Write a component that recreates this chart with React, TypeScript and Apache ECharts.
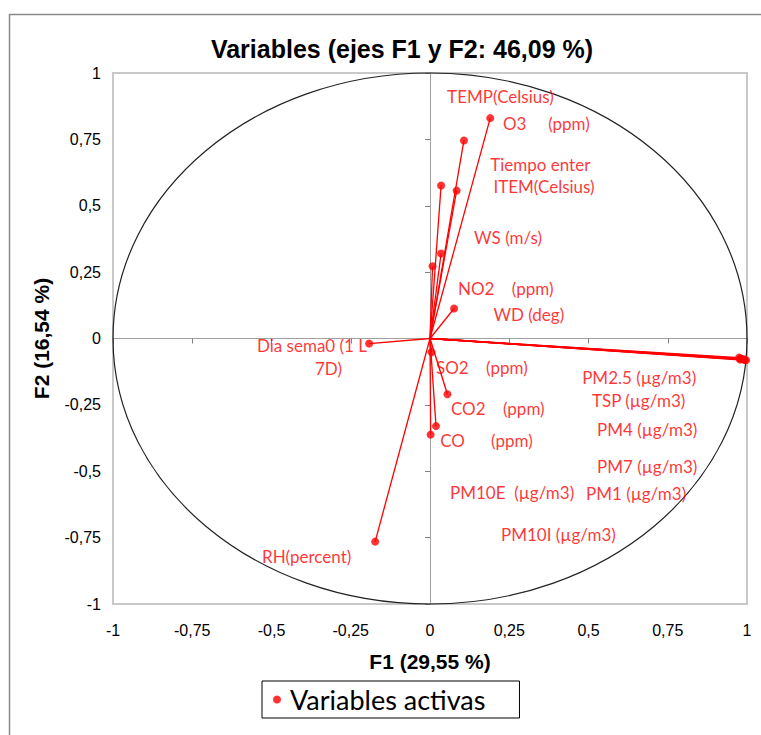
import React, { useEffect, useRef } from "react";
import * as echarts from "echarts";

// Variable coordinates on the factor axes (F1, F2)
const varF1 = [0.19, 0.107, 0.035, 0.084, 0.035, 0.008, 0.076, -0.192, 0.005, 0.055, 0.019, 0.002, -0.173, 0.975, 0.98, 0.985, 0.99, 0.993, 0.997, 0.978];
const varF2 = [0.83, 0.746, 0.576, 0.557, 0.32, 0.272, 0.113, -0.019, -0.052, -0.21, -0.33, -0.362, -0.765, -0.072, -0.075, -0.077, -0.079, -0.08, -0.082, -0.079];

// Labels as placed in the original chart (anchor in F1/F2 units, left edge)
const labelTexts = [
  "TEMP(Celsius)", "O3     (ppm)", "Tiempo enter", "ITEM(Celsius)", "WS (m/s)", "NO2    (ppm)", "WD (deg)",
  "Dia sema0 (1 L", "7D)", "SO2    (ppm)", "CO2    (ppm)", "CO      (ppm)",
  "PM2.5 (µg/m3)", "TSP (µg/m3)", "PM4 (µg/m3)", "PM7 (µg/m3)", "PM10E  (µg/m3)", "PM1 (µg/m3)", "PM10I (µg/m3)", "RH(percent)",
];
const labelF1 = [0.054, 0.23, 0.19, 0.2, 0.139, 0.088, 0.2, -0.546, -0.363, 0.019, 0.066, 0.032, 0.48, 0.511, 0.527, 0.527, 0.063, 0.492, 0.224, -0.53];
const labelF2 = [0.911, 0.81, 0.655, 0.572, 0.38, 0.188, 0.09, -0.026, -0.113, -0.109, -0.264, -0.384, -0.147, -0.234, -0.343, -0.482, -0.58, -0.584, -0.738, -0.821];

const titleText = "Variables (ejes F1 y F2: 46,09 %)";
const xName = "F1 (29,55 %)";
const yName = "F2 (16,54 %)";
const seriesName = "Variables activas";

const RED = "#ff0000";
const fmt = (v: number) => String(v).replace(".", ",");

export default function App() {
  const ref = useRef<HTMLDivElement>(null);
  useEffect(() => {
    document.body.style.margin = "0";
    const chart = echarts.init(ref.current!, null, { renderer: "svg" });
    const points = varF1.map((x, i) => [x, varF2[i]]);
    const labels = labelTexts.map((t, i) => ({ name: t, value: [labelF1[i], labelF2[i]] }));
    const axisCommon = { type: "value" as const, min: -1, max: 1, interval: 0.25 };
    chart.setOption({
      animation: false,
      textStyle: { fontFamily: "Liberation Sans" },
      title: {
        text: titleText,
        left: 397,
        textAlign: "center",
        top: 31,
        textStyle: { fontSize: 25, fontWeight: "bold", color: "#000", fontFamily: "Liberation Sans" },
      },
      graphic: [
        {
          type: "rect",
          shape: { x: 9.5, y: 14.5, width: 800, height: 800 },
          style: { fill: "none", stroke: "#8a8a8a", lineWidth: 1.5 },
          silent: true,
          z: -10,
        },
      ],
      legend: {
        data: [seriesName],
        left: 262,
        bottom: 17,
        icon: "circle",
        itemWidth: 8,
        itemHeight: 8,
        borderColor: "#000",
        borderWidth: 1,
        padding: [5, 34, 5, 11],
        textStyle: { fontSize: 27, color: "#000", fontFamily: "Lato", padding: [0, 0, 0, 4] },
      },
      grid: {
        left: 113,
        right: 14,
        top: 73,
        bottom: 131,
        show: true,
        borderColor: "#c8c8c8",
        borderWidth: 2,
      },
      xAxis: [
        {
          ...axisCommon,
          position: "bottom",
          axisLine: { show: false, onZero: false },
          axisTick: { show: false },
          splitLine: { show: false },
          axisLabel: { formatter: fmt, fontSize: 16, color: "#000", margin: 18 },
          name: xName,
          nameLocation: "middle",
          nameGap: 47,
          nameTextStyle: { fontSize: 21, fontWeight: "bold", color: "#000" },
        },
        {
          ...axisCommon,
          position: "bottom",
          axisLine: { show: true, onZero: true, onZeroAxisIndex: 0, lineStyle: { color: "#a0a0a0", width: 1 } },
          axisTick: { show: true, length: 5, inside: false, lineStyle: { color: "#808080" } },
          axisLabel: { show: false },
          splitLine: { show: false },
        },
      ],
      yAxis: [
        {
          ...axisCommon,
          position: "left",
          axisLine: { show: false, onZero: false },
          axisTick: { show: false },
          splitLine: { show: false },
          axisLabel: { formatter: fmt, fontSize: 16, color: "#000", margin: 12 },
          name: yName,
          nameLocation: "middle",
          nameGap: 61,
          nameRotate: 90,
          nameTextStyle: { fontSize: 21, fontWeight: "bold", color: "#000" },
        },
        {
          ...axisCommon,
          position: "left",
          axisLine: { show: true, onZero: true, onZeroAxisIndex: 0, lineStyle: { color: "#a0a0a0", width: 1 } },
          axisTick: { show: true, length: 5, inside: false, lineStyle: { color: "#808080" } },
          axisLabel: { show: false },
          splitLine: { show: false },
        },
      ],
      series: [
        {
          type: "custom",
          name: "circle",
          data: [[0, 0]],
          silent: true,
          z: 1,
          renderItem: (_p: any, api: any) => {
            const c = api.coord([0, 0]);
            const s = api.size([1, 1]);
            return {
              type: "ellipse",
              shape: { cx: c[0], cy: c[1], rx: s[0], ry: s[1] },
              style: { fill: "none", stroke: "#222", lineWidth: 1.2 },
            };
          },
        },
        {
          type: "custom",
          name: "vectors",
          data: points,
          silent: true,
          z: 2,
          renderItem: (_p: any, api: any) => {
            const o = api.coord([0, 0]);
            const e = api.coord([api.value(0), api.value(1)]);
            return {
              type: "line",
              shape: { x1: o[0], y1: o[1], x2: e[0], y2: e[1] },
              style: { stroke: RED, lineWidth: 1.3 },
            };
          },
        },
        {
          type: "scatter",
          name: seriesName,
          data: points,
          symbol: "circle",
          symbolSize: 8,
          itemStyle: { color: RED },
          z: 3,
        },
        {
          type: "scatter",
          name: "labels",
          data: labels,
          symbolSize: 0,
          silent: true,
          z: 4,
          label: {
            show: true,
            position: "right",
            distance: 0,
            formatter: (p: any) => p.name,
            color: RED,
            fontSize: 17,
            fontFamily: "Lato",
          },
        },
      ],
    });
    return () => chart.dispose();
  }, []);
  return <div ref={ref} style={{ width: 761, height: 735 }} />;
}
